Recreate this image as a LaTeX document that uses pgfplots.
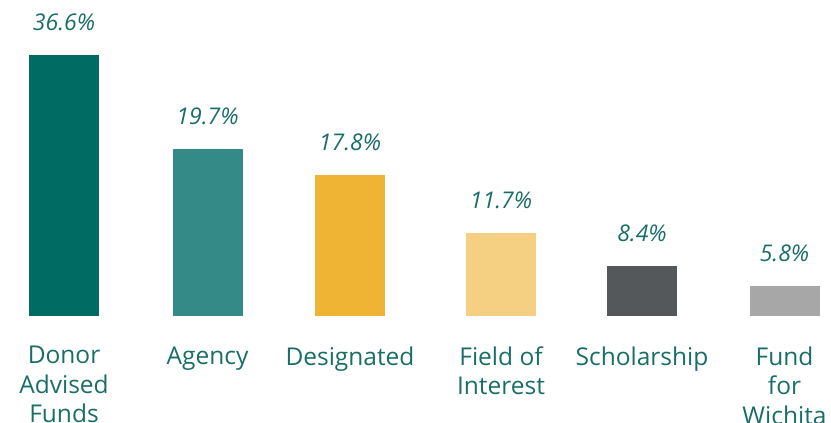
\documentclass[border=0pt]{standalone}
\usepackage{pgfplots}
\pgfplotsset{compat=1.18}
\usepackage{fontspec}
\setmainfont{Open Sans}
\definecolor{c1}{HTML}{006B63}
\definecolor{c2}{HTML}{348A86}
\definecolor{c3}{HTML}{F0B435}
\definecolor{c4}{HTML}{F5D083}
\definecolor{c5}{HTML}{54585A}
\definecolor{c6}{HTML}{A7A7A7}
\definecolor{txt}{HTML}{1A6E68}
\begin{document}
\begin{tikzpicture}
\begin{axis}[
  scale only axis, width=831pt, height=316pt,
  xmin=0, xmax=831, ymin=0, ymax=44.32,
  ybar, bar width=70pt, bar shift=0pt,
  axis line style={draw=none}, tick style={draw=none},
  ytick=\empty,
  xtick={64,207.5,350,501,642,784.5},
  xticklabels={{Donor\\Advised\\Funds},Agency,Designated,{Field of\\Interest},Scholarship,{Fund\\for\\Wichita}},
  xticklabel style={align=center, anchor=north, inner sep=0pt, yshift=-26pt,
    font=\fontsize{24.5}{29.5}\selectfont, text=txt},
  clip=false,
  point meta=explicit symbolic,
  nodes near coords,
  nodes near coords style={font=\itshape\fontsize{23}{23}\selectfont, text=txt, anchor=south, inner sep=0pt, yshift=24pt},
]
\addplot[fill=c1, draw=none] coordinates {(64,36.6) [36.6\%]};
\addplot[fill=c2, draw=none] coordinates {(207.5,23.4) [19.7\%]};
\addplot[fill=c3, draw=none] coordinates {(350,19.8) [17.8\%]};
\addplot[fill=c4, draw=none] coordinates {(501,11.6) [11.7\%]};
\addplot[fill=c5, draw=none] coordinates {(642,7.0) [8.4\%]};
\addplot[fill=c6, draw=none] coordinates {(784.5,4.2) [5.8\%]};
\end{axis}
\pgfresetboundingbox
\path[use as bounding box] (current axis.north west) rectangle ++(831pt,-423pt);
\end{tikzpicture}
\end{document}
